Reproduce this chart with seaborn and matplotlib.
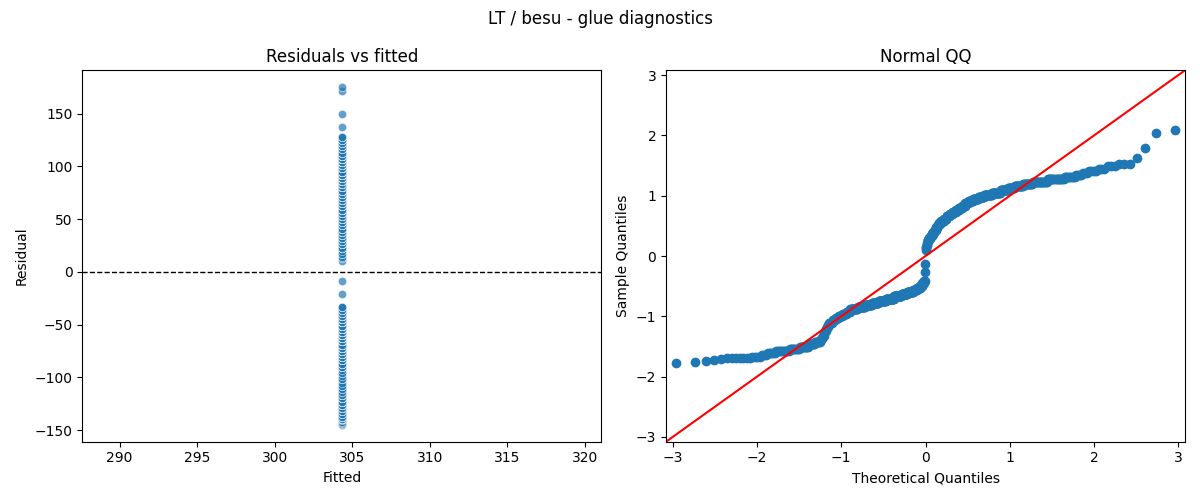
import numpy as np
import pandas as pd
import seaborn as sns
import matplotlib
matplotlib.use("Agg")
import matplotlib.pyplot as plt
from statistics import NormalDist

residual_levels = [-145, -144, -143, -142, -140, -139, -138, -135, -132, -129, -126, -123, -120, -117,
                   -114, -111, -108, -105, -102, -99, -96, -93, -90, -87, -84, -81, -78, -75,
                   -72, -69, -66, -63, -60, -57, -54, -51, -48, -45, -42, -39, -36, -33, -21, -9,
                   10, 13, 14, 17, 20, 23, 26, 29, 32, 35, 38, 41, 44, 47, 50, 53, 56, 59, 62, 65,
                   68, 71, 74, 77, 80, 83, 86, 89, 92, 95, 98, 101, 104, 107, 110, 113, 116, 119,
                   122, 125, 128, 137, 150, 171, 175]
residual_counts = [1, 1, 1, 1, 1, 7, 4, 3, 5, 10, 9, 10, 8, 7,
                   2, 2, 2, 1, 2, 1, 2, 1, 6, 5, 6, 7, 8, 7,
                   16, 17, 17, 17, 20, 23, 22, 17, 18, 11, 10, 7, 5, 3, 1, 1,
                   1, 1, 1, 2, 1, 4, 5, 4, 5, 4, 5, 4, 4, 6, 9, 8, 9, 9, 9, 9,
                   9, 9, 9, 12, 14, 14, 18, 19, 15, 12, 14, 14, 18, 16, 8, 4, 3, 4,
                   3, 3, 3, 1, 1, 1, 1]
fitted_value = 304.33  # model only has an intercept -> one fitted value

resid = np.repeat(residual_levels, residual_counts).astype(float)
n = len(resid)
df = pd.DataFrame({"fitted": np.full(n, fitted_value), "resid": resid})

# qq: standardised sample vs normal plotting positions i/(n+1)
sample_q = np.sort((resid - resid.mean()) / resid.std())
theo_q = np.array([NormalDist().inv_cdf(i / (n + 1)) for i in range(1, n + 1)])

fig, axes = plt.subplots(1, 2, figsize=(12, 5), dpi=100)

ax = axes[0]
sns.scatterplot(data=df, x="fitted", y="resid", alpha=0.7, ax=ax)
ax.axhline(0, color="black", linestyle="--", linewidth=1)
ax.set_title("Residuals vs fitted")
ax.set_xlabel("Fitted")
ax.set_ylabel("Residual")

ax = axes[1]
sns.scatterplot(x=theo_q, y=sample_q, color="C0", edgecolor="C0", linewidth=1, s=36, ax=ax)
ax.set_xmargin(0.02)
ax.autoscale_view()
lo = min(ax.get_xlim()[0], ax.get_ylim()[0])
hi = max(ax.get_xlim()[1], ax.get_ylim()[1])
ax.plot([lo, hi], [lo, hi], color="red")
ax.set_xlim(lo, hi)
ax.set_ylim(lo, hi)
ax.set_title("Normal QQ")
ax.set_xlabel("Theoretical Quantiles")
ax.set_ylabel("Sample Quantiles")

fig.suptitle("LT / besu - glue diagnostics")
fig.tight_layout()
fig.savefig("out.png")
